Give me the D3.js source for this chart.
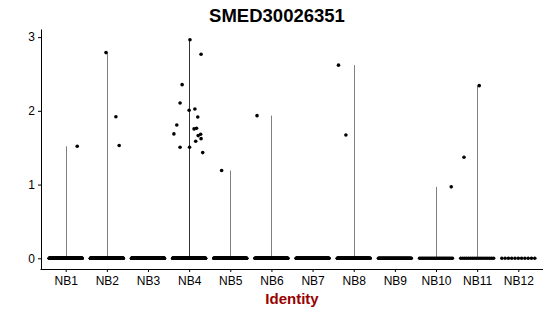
<!DOCTYPE html>
<html>
<head>
<meta charset="utf-8">
<script src="https://cdn.jsdelivr.net/npm/d3@7"></script>
<style>
  body { margin: 0; background: #fff; }
  svg { font-family: "Liberation Sans", Arial, sans-serif; }
</style>
</head>
<body>
<svg width="550" height="316"></svg>
<script>
// identities on the x axis
const groups = ['NB1', 'NB2', 'NB3', 'NB4', 'NB5', 'NB6', 'NB7', 'NB8', 'NB9', 'NB10', 'NB11', 'NB12'];
// how many cells sit at 0 expression in each identity
const zeroCounts = [300, 260, 250, 250, 220, 160, 150, 140, 70, 26, 18, 11];
// cells with non-zero expression: [identity, jitter (fraction of a step), value]
const expressed = [
  ['NB1', 0.28, 1.52],
  ['NB2', -0.02, 2.79], ['NB2', 0.22, 1.92], ['NB2', 0.30, 1.53],
  ['NB4', 0.02, 2.965], ['NB4', 0.29, 2.767], ['NB4', -0.17, 2.355], ['NB4', -0.22, 2.107],
  ['NB4', 0.00, 2.008], ['NB4', 0.14, 2.026], ['NB4', 0.21, 1.917], ['NB4', -0.30, 1.809],
  ['NB4', -0.37, 1.687], ['NB4', 0.12, 1.755], ['NB4', 0.18, 1.764], ['NB4', 0.22, 1.664],
  ['NB4', 0.28, 1.683], ['NB4', 0.29, 1.623], ['NB4', 0.16, 1.588], ['NB4', -0.22, 1.507],
  ['NB4', 0.01, 1.507], ['NB4', 0.33, 1.434],
  ['NB5', -0.21, 1.19],
  ['NB6', -0.35, 1.935],
  ['NB8', -0.37, 2.62], ['NB8', -0.19, 1.673],
  ['NB10', 0.37, 0.969],
  ['NB11', 0.05, 2.342], ['NB11', -0.32, 1.371]
];
const yTicks = [0, 1, 2, 3];

const svg = d3.select('svg');

const x = d3.scalePoint().domain(groups).range([41, 543]).padding(0.6);
const step = x.step();
const y = d3.scaleLinear().domain([-0.145, 3.11]).range([269, 29]);

// violins collapse to a thin line from 0 up to the top value
const violins = groups.map(g => {
  const vals = expressed.filter(d => d[0] === g).map(d => d[2]);
  return { g: g, max: vals.length ? d3.max(vals) : 0, n: vals.length };
}).filter(d => d.max > 0);

svg.append('g')
  .selectAll('line')
  .data(violins)
  .join('line')
  .attr('x1', d => Math.round(x(d.g)) + 0.5)
  .attr('x2', d => Math.round(x(d.g)) + 0.5)
  .attr('y1', y(0))
  .attr('y2', d => y(d.max))
  .attr('stroke', d => d.n > 10 ? '#333' : '#808080')
  .attr('stroke-width', 1);

// points at zero, spread across the jitter width
const zeros = [];
groups.forEach((g, i) => {
  const n = zeroCounts[i];
  for (let k = 0; k < n; k++) {
    zeros.push([g, n > 1 ? -0.4 + 0.8 * k / (n - 1) : 0, 0]);
  }
});

svg.append('g')
  .selectAll('circle')
  .data(zeros.concat(expressed))
  .join('circle')
  .attr('cx', d => x(d[0]) + d[1] * step)
  .attr('cy', d => y(d[2]))
  .attr('r', 1.8)
  .attr('fill', '#000');

// axes
const yAxis = svg.append('g')
  .attr('transform', 'translate(41,0)')
  .call(d3.axisLeft(y).tickValues(yTicks).tickFormat(d3.format('d')).tickSize(3).tickSizeOuter(0).tickPadding(3));
const xAxis = svg.append('g')
  .attr('transform', 'translate(0,269)')
  .call(d3.axisBottom(x).tickSize(3).tickSizeOuter(0).tickPadding(4));

[yAxis, xAxis].forEach(a => {
  a.select('.domain').attr('stroke', '#000').attr('stroke-width', 1);
  a.selectAll('.tick line').attr('stroke', '#000');
  a.selectAll('.tick text')
    .attr('fill', '#000')
    .style('font-family', '"Liberation Sans", Arial, sans-serif')
    .style('font-size', '12px');
});
// extend the x axis line over the y axis corner
xAxis.select('.domain').attr('d', 'M40.5,0.5H543');

// title
svg.append('text')
  .attr('x', 277)
  .attr('y', 22)
  .attr('text-anchor', 'middle')
  .style('font-weight', 'bold')
  .style('font-size', '18.5px')
  .text('SMED30026351');

// x axis title
svg.append('text')
  .attr('x', 292)
  .attr('y', 304)
  .attr('text-anchor', 'middle')
  .attr('fill', '#990000')
  .style('font-weight', 'bold')
  .style('font-size', '15px')
  .text('Identity');
</script>
</body>
</html>
